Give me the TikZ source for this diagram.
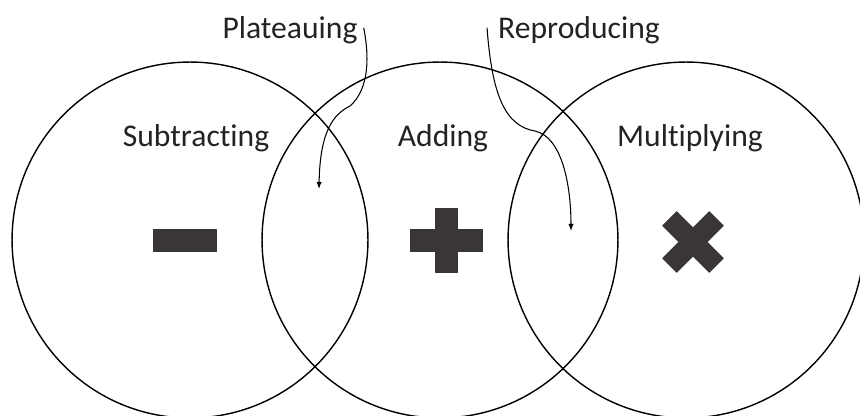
\documentclass[tikz,border=0pt]{standalone}
\usepackage{fontspec}
\setmainfont{Carlito}[Ligatures=NoCommon]
\usetikzlibrary{arrows.meta,calc,positioning}
\definecolor{opgray}{RGB}{58,53,54}
\definecolor{txtgray}{RGB}{35,35,35}

\begin{document}
\begin{tikzpicture}[x=0.02cm,y=-0.02cm,>=Latex,
    ring/.style={draw,circle,line width=0.8pt,minimum size=7.12cm,inner sep=0pt},
    lbl/.style={font=\fontsize{18}{20}\selectfont,text=txtgray,anchor=base},
    pointer/.style={->,line width=0.6pt,-{Latex[length=4pt,width=3pt]}},
    opsign/.style={fill=opgray,draw=opgray,line width=0.4pt,line join=round}]
    \useasboundingbox (0,0) rectangle (860,416);
    % the three circles
    \node[ring] (subring) at (190,240) {};
    \node[ring] (addring) at (440,240) {};
    \node[ring] (mulring) at (686,240) {};
    % circle labels
    \node[lbl] (sublbl) at (196,146) {Subtracting};
    \node[lbl] (addlbl) at (443,146) {Adding};
    \node[lbl] (mullbl) at (690,146) {Multiplying};
    % overlap labels
    \node[lbl] (plat) at (290,38) {Plateauing};
    \node[lbl] (repr) at (579,38) {Reproducing};
    \coordinate (platend) at (319,189);
    \coordinate (reprend) at (571,231);
    \draw[pointer] ($(plat.east)+(0,-2)$) .. controls (371,65) and (366,92) .. (350,106)
        .. controls (334,114) and (320,130) .. (platend);
    \draw[pointer] ($(repr.west)+(-5,-2)$) .. controls (492,95) and (505,126) .. (535,131)
        .. controls (562,137) and (571,185) .. (reprend);
    % signs
    \filldraw[opsign] (153,229) rectangle (216,251);
    \filldraw[opsign] (446,240) ++(-36,-11) -- ++(25,0) -- ++(0,-21) -- ++(22,0) -- ++(0,21)
        -- ++(25,0) -- ++(0,22) -- ++(-25,0) -- ++(0,21) -- ++(-22,0) -- ++(0,-21)
        -- ++(-25,0) -- cycle;
    \filldraw[opsign,rotate around={45:(693,242)}] (693,242) ++(-33,-10) -- ++(23,0) -- ++(0,-23)
        -- ++(20,0) -- ++(0,23) -- ++(23,0) -- ++(0,20) -- ++(-23,0) -- ++(0,23) -- ++(-20,0)
        -- ++(0,-23) -- ++(-23,0) -- cycle;
\end{tikzpicture}
\end{document}
